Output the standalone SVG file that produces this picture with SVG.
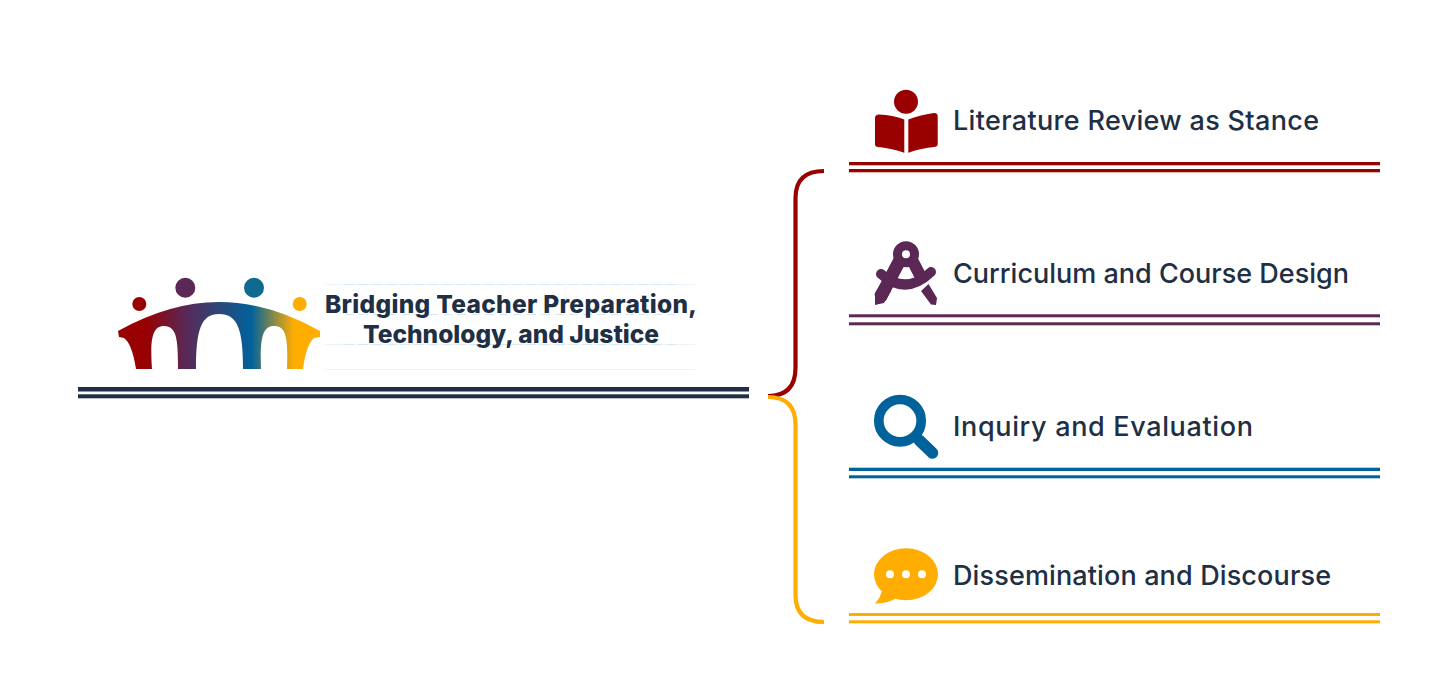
<svg xmlns="http://www.w3.org/2000/svg" width="1455" height="697" viewBox="0 0 1455 697">
<style>
.lbl{font-family:"Inter","Lato","Liberation Sans",sans-serif;font-size:27px;fill:#202f44;font-weight:500}
.ttl{font-family:"Inter","Lato","Liberation Sans",sans-serif;font-size:24.500px;fill:#202f44;font-weight:800}
.faint{stroke:#edf3f7;stroke-width:1;fill:none}
.dash{stroke:#d6e8f4;stroke-width:1;fill:none;stroke-dasharray:9 5}
.red{fill:#990000}.pur{fill:#5b2755}.blu{fill:#00629b}.yel{fill:#ffad00}
.brace{fill:none;stroke-width:4.200}
</style>
<defs>
<linearGradient id="bridge" gradientUnits="userSpaceOnUse" x1="118" y1="0" x2="320" y2="0">
<stop offset="0.13" stop-color="#990000"/>
<stop offset="0.33" stop-color="#5b2755"/>
<stop offset="0.66" stop-color="#00629b"/>
<stop offset="0.87" stop-color="#ffad00"/>
</linearGradient>
</defs>
<rect width="1455" height="697" fill="#ffffff"/>
<g id="connectors">
<path class="brace" stroke="#990000" d="M824 171Q795.500 171 795.500 198V368Q795.500 396 768 396"/>
<path class="brace" stroke="#ffad00" d="M768 397Q795.500 397 795.500 425V595Q795.500 622 824 622"/>
</g>
<g id="root">
<path class="faint" d="M325 284.500H695M325 344.500H695M325 369.500H695"/>
<path class="dash" d="M345 284.500H680M345 314.500H680M345 344.500H680"/>
<circle cx="139.300" cy="304" r="7" class="red"/>
<circle cx="185.300" cy="287.700" r="10" class="pur"/>
<circle cx="254" cy="287.700" r="10" fill="#0f6a8f"/>
<circle cx="299.700" cy="304" r="7" class="yel"/>
<path fill="url(#bridge)" d="M118 331Q170 302 219 302Q268 302 320 331L320 337L314 338Q306 345 303 369H287C288 340 287 326 274 326C262 326 260 340 261 369H243C243 330 238 314 219 314C201 314 196 330 196 369H178C178 340 177 326 164 326C152 326 150 340 152 369H136C133 350 129 342 124 338L119 337Z"/>
<text class="ttl" x="325" y="313" textLength="372" lengthAdjust="spacing">Bridging Teacher Preparation,</text>
<text class="ttl" x="363" y="343" textLength="296" lengthAdjust="spacing">Technology, and Justice</text>
<rect x="78" y="387" width="671" height="4.500" fill="#202f44"/>
<rect x="78" y="394.300" width="671" height="4" fill="#202f44"/>
</g>
<g id="node-literature">
<circle cx="906" cy="101.700" r="12" class="red"/>
<path class="red" d="M875 118Q875 114.500 879 114.500Q893 115 904.300 119.500V152.700Q890 148 878 147Q875 147 875 144Z"/>
<path class="red" d="M937.700 116Q937.700 113 934 113Q919 115 908.300 119.500V152.700Q922 148 934 147Q937.700 147 937.700 144Z"/>
<text class="lbl" x="953" y="130" textLength="366" lengthAdjust="spacing">Literature Review as Stance</text>
<rect x="849" y="162" width="531" height="3.300" class="red"/>
<rect x="849" y="169" width="531" height="3.300" class="red"/>
</g>
<g id="node-curriculum" fill="none" stroke="#5b2755">
<circle cx="906" cy="254.300" r="8.500" stroke-width="9"/>
<path stroke-width="13" d="M901 258L880 298"/>
<path stroke-width="12" d="M911 258L922 279"/>
<path stroke-width="10" d="M881 274Q906 296 931 272" stroke-linecap="round"/>
<path class="pur" stroke="none" d="M875 293L875 305L884 303L891 291L880 285ZM921 291L928.500 284L937 298L936 305L931 304.500Z"/>
<text class="lbl" stroke="none" x="953" y="283" textLength="396" lengthAdjust="spacing">Curriculum and Course Design</text>
<rect x="849" y="314.300" width="531" height="3" class="pur" stroke="none"/>
<rect x="849" y="322.300" width="531" height="3" class="pur" stroke="none"/>
</g>
<g id="node-inquiry">
<circle cx="900" cy="420.700" r="21.200" fill="none" stroke="#00629b" stroke-width="9.700"/>
<path d="M919 440L932.500 453" fill="none" stroke="#00629b" stroke-width="11.500" stroke-linecap="round"/>
<text class="lbl" x="953" y="436" textLength="300" lengthAdjust="spacing">Inquiry and Evaluation</text>
<rect x="849" y="467.700" width="531" height="3.300" class="blu"/>
<rect x="849" y="475.300" width="531" height="3" class="blu"/>
</g>
<g id="node-dissemination">
<ellipse cx="906" cy="574.300" rx="32" ry="26" class="yel"/>
<path class="yel" d="M882 590Q881 597 875 603.500Q888 604 898 597Z"/>
<circle cx="890" cy="574.300" r="4" fill="#fff"/>
<circle cx="906" cy="574.300" r="4" fill="#fff"/>
<circle cx="922" cy="574.300" r="4" fill="#fff"/>
<text class="lbl" x="953" y="585" textLength="378" lengthAdjust="spacing">Dissemination and Discourse</text>
<rect x="849" y="613" width="531" height="3" class="yel"/>
<rect x="849" y="620.300" width="531" height="3" class="yel"/>
</g>
</svg>
